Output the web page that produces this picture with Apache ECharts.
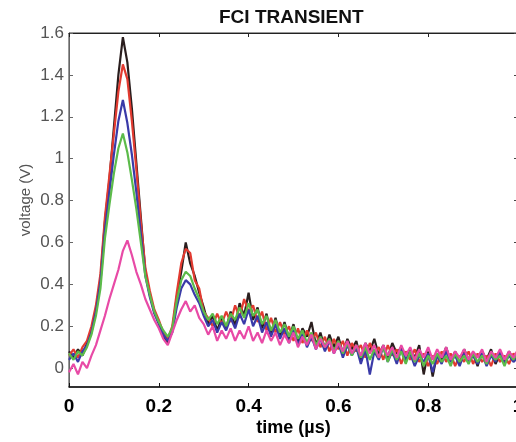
<!DOCTYPE html>
<html>
<head>
<meta charset="utf-8">
<script src="https://cdn.jsdelivr.net/npm/echarts@6/dist/echarts.min.js"></script>
<style>html,body{margin:0;padding:0;background:#fff;}#c{width:516px;height:442px;}</style>
</head>
<body>
<div id="c"></div>
<script>
const times = [0,0.01,0.02,0.03,0.04,0.05,0.06,0.07,0.08,0.09,0.1,0.11,0.12,0.13,0.14,0.15,0.16,0.17,0.18,0.19,0.2,0.21,0.22,0.23,0.24,0.25,0.26,0.27,0.28,0.29,0.3,0.31,0.32,0.33,0.34,0.35,0.36,0.37,0.38,0.39,0.4,0.41,0.42,0.43,0.44,0.45,0.46,0.47,0.48,0.49,0.5,0.51,0.52,0.53,0.54,0.55,0.56,0.57,0.58,0.59,0.6,0.61,0.62,0.63,0.64,0.65,0.66,0.67,0.68,0.69,0.7,0.71,0.72,0.73,0.74,0.75,0.76,0.77,0.78,0.79,0.8,0.81,0.82,0.83,0.84,0.85,0.86,0.87,0.88,0.89,0.9,0.91,0.92,0.93,0.94,0.95,0.96,0.97,0.98,0.99,1];

const blackV = [0.08,0.05,0.09,0.06,0.12,0.18,0.28,0.42,0.70,0.90,1.15,1.40,1.58,1.46,1.24,0.98,0.72,0.46,0.35,0.27,0.22,0.15,0.12,0.18,0.34,0.46,0.60,0.50,0.44,0.36,0.29,0.21,0.25,0.18,0.24,0.19,0.27,0.20,0.31,0.25,0.36,0.23,0.29,0.19,0.26,0.16,0.24,0.15,0.22,0.14,0.21,0.12,0.19,0.15,0.22,0.11,0.17,0.09,0.16,0.10,0.15,0.07,0.14,0.09,0.13,0.04,0.12,0.08,0.14,0.06,0.11,0.05,0.12,0.07,0.10,0.03,0.09,0.05,0.11,-0.03,0.08,-0.04,0.07,0.04,0.10,0.03,0.08,0.02,0.09,0.04,0.07,0.01,0.08,0.04,0.09,0.02,0.07,0.03,0.08,0.04,0.06];

const redV = [0.06,0.09,0.05,0.10,0.13,0.20,0.30,0.45,0.72,0.92,1.12,1.32,1.45,1.38,1.18,0.95,0.70,0.48,0.37,0.28,0.23,0.17,0.14,0.20,0.36,0.50,0.57,0.55,0.42,0.38,0.27,0.24,0.20,0.26,0.21,0.27,0.22,0.30,0.24,0.33,0.27,0.30,0.22,0.27,0.18,0.24,0.17,0.22,0.16,0.20,0.13,0.19,0.12,0.18,0.13,0.17,0.10,0.15,0.08,0.14,0.09,0.13,0.06,0.12,0.08,0.11,0.05,0.12,0.07,0.10,0.04,0.11,0.06,0.09,0.02,0.08,0.04,0.09,0.03,0.07,0.01,0.06,0.02,0.08,0.03,0.07,0.01,0.06,0.03,0.08,0.02,0.07,0.03,0.06,0.01,0.07,0.03,0.06,0.02,0.07,0.04];

const blueV = [0.04,0.07,0.03,0.08,0.11,0.17,0.27,0.41,0.66,0.84,1.02,1.18,1.28,1.17,1.02,0.84,0.64,0.44,0.34,0.26,0.21,0.16,0.13,0.17,0.29,0.38,0.42,0.40,0.35,0.31,0.25,0.20,0.23,0.17,0.22,0.18,0.24,0.19,0.26,0.21,0.28,0.20,0.25,0.17,0.22,0.15,0.21,0.14,0.19,0.12,0.18,0.11,0.17,0.10,0.15,0.09,0.14,0.08,0.13,0.07,0.12,0.05,0.11,0.06,0.10,0.02,0.09,-0.03,0.08,0.04,0.10,0.03,0.08,0.02,0.09,0.04,0.07,0.01,0.06,0.03,0.07,-0.02,0.06,0.02,0.08,0.03,0.06,0.01,0.07,0.03,0.06,0.02,0.07,0.01,0.06,0.03,0.08,0.02,0.06,0.03,0.05];

const greenV = [0.07,0.04,0.08,0.06,0.10,0.16,0.25,0.38,0.62,0.78,0.93,1.05,1.12,1.03,0.90,0.76,0.60,0.44,0.35,0.27,0.22,0.18,0.15,0.19,0.32,0.42,0.46,0.44,0.38,0.33,0.27,0.23,0.26,0.21,0.25,0.20,0.26,0.23,0.29,0.24,0.31,0.25,0.28,0.21,0.25,0.18,0.23,0.17,0.21,0.15,0.20,0.14,0.18,0.12,0.17,0.11,0.15,0.10,0.14,0.08,0.13,0.07,0.12,0.06,0.11,0.05,0.10,0.04,0.09,0.05,0.10,0.03,0.09,0.04,0.08,0.02,0.08,0.03,0.07,0.01,0.06,0.02,0.07,0.03,0.06,0.01,0.07,0.03,0.06,0.02,0.07,0.03,0.06,0.02,0.07,0.04,0.06,0.01,0.07,0.04,0.08];

const magentaV = [-0.02,0.02,-0.03,0.03,0.00,0.06,0.11,0.18,0.25,0.33,0.40,0.47,0.56,0.61,0.54,0.46,0.40,0.33,0.28,0.23,0.19,0.14,0.11,0.17,0.23,0.28,0.32,0.27,0.30,0.24,0.21,0.16,0.20,0.13,0.18,0.14,0.19,0.13,0.18,0.14,0.20,0.13,0.17,0.12,0.18,0.13,0.17,0.11,0.16,0.12,0.17,0.10,0.15,0.11,0.16,0.09,0.14,0.10,0.13,0.07,0.12,0.08,0.13,0.07,0.11,0.06,0.12,0.07,0.11,0.05,0.11,0.06,0.10,0.05,0.11,0.06,0.10,0.04,0.09,0.05,0.10,0.04,0.09,0.05,0.10,0.04,0.08,0.05,0.09,0.04,0.08,0.05,0.09,0.03,0.08,0.05,0.09,0.04,0.08,0.05,0.09];

const xTicks = [0, 0.2, 0.4, 0.6, 0.8, 1];
const yTicks = [0, 0.2, 0.4, 0.6, 0.8, 1, 1.2, 1.4, 1.6];

const seriesDefs = [
  {name: 'trace 1', values: blackV, color: '#2a1e1e'},
  {name: 'trace 2', values: redV, color: '#e23a30'},
  {name: 'trace 3', values: blueV, color: '#3a3aa8'},
  {name: 'trace 4', values: greenV, color: '#5cbb4a'},
  {name: 'trace 5', values: magentaV, color: '#e84aa6'}
];

const chart = echarts.init(document.getElementById('c'), null, {renderer: 'canvas'});
const font = 'Liberation Sans, Arial, sans-serif';

chart.setOption({
  animation: false,
  backgroundColor: '#ffffff',
  title: {
    text: 'FCI TRANSIENT',
    left: 214, top: 3,
    textStyle: {fontFamily: font, fontSize: 19, fontWeight: 'bold', color: '#111'}
  },
  grid: {left: 69, top: 33, right: -2, bottom: 55, outerBoundsMode: 'none', containLabel: false,
         show: true, borderColor: '#333', borderWidth: 1, backgroundColor: 'transparent'},
  xAxis: [{
    type: 'value', min: 0, max: 1, interval: 0.2,
    name: 'time (µs)', nameLocation: 'middle', nameGap: 32, nameMoveOverlap: false,
    nameTextStyle: {fontFamily: font, fontSize: 18, fontWeight: 'bold', color: '#000'},
    axisLine: {show: true, onZero: false, lineStyle: {color: '#111', width: 1.5}},
    axisTick: {show: true, inside: true, length: 4, lineStyle: {color: '#111'}},
    axisLabel: {fontFamily: font, fontSize: 19, fontWeight: 'bold', color: '#000', margin: 10, customValues: xTicks, showMaxLabel: true, hideOverlap: false},
    splitLine: {show: false}
  }, {
    type: 'value', min: 0, max: 1, interval: 0.2, position: 'top',
    axisLine: {show: true, onZero: false, lineStyle: {color: '#222'}},
    axisTick: {show: true, inside: true, length: 4, lineStyle: {color: '#222'}},
    axisLabel: {show: false}, splitLine: {show: false}
  }],
  yAxis: [{
    type: 'value', min: -0.09, max: 1.6,
    name: 'voltage (V)', nameLocation: 'middle', nameGap: 36, nameRotate: 90, nameMoveOverlap: false,
    nameTextStyle: {fontFamily: font, fontSize: 15, color: '#555', padding: [0, 0, 0, 20]},
    axisLine: {show: true, onZero: false, lineStyle: {color: '#666'}},
    axisTick: {show: true, inside: true, length: 4, customValues: yTicks, lineStyle: {color: '#666'}},
    axisLabel: {fontFamily: font, fontSize: 17, color: '#555', margin: 5, customValues: yTicks},
    splitLine: {show: false}
  }, {
    type: 'value', min: -0.09, max: 1.6, position: 'right',
    axisLine: {show: true, onZero: false, lineStyle: {color: '#444'}},
    axisTick: {show: true, inside: true, length: 4, customValues: yTicks, lineStyle: {color: '#444'}},
    axisLabel: {show: false}, splitLine: {show: false}
  }],
  series: seriesDefs.map(s => ({
    name: s.name,
    type: 'line',
    xAxisIndex: 0, yAxisIndex: 0,
    data: times.map((t, i) => [t, s.values[i]]),
    showSymbol: false,
    symbol: 'none',
    lineStyle: {color: s.color, width: 2.2},
    itemStyle: {color: s.color},
    clip: true
  }))
});
</script>
</body>
</html>
